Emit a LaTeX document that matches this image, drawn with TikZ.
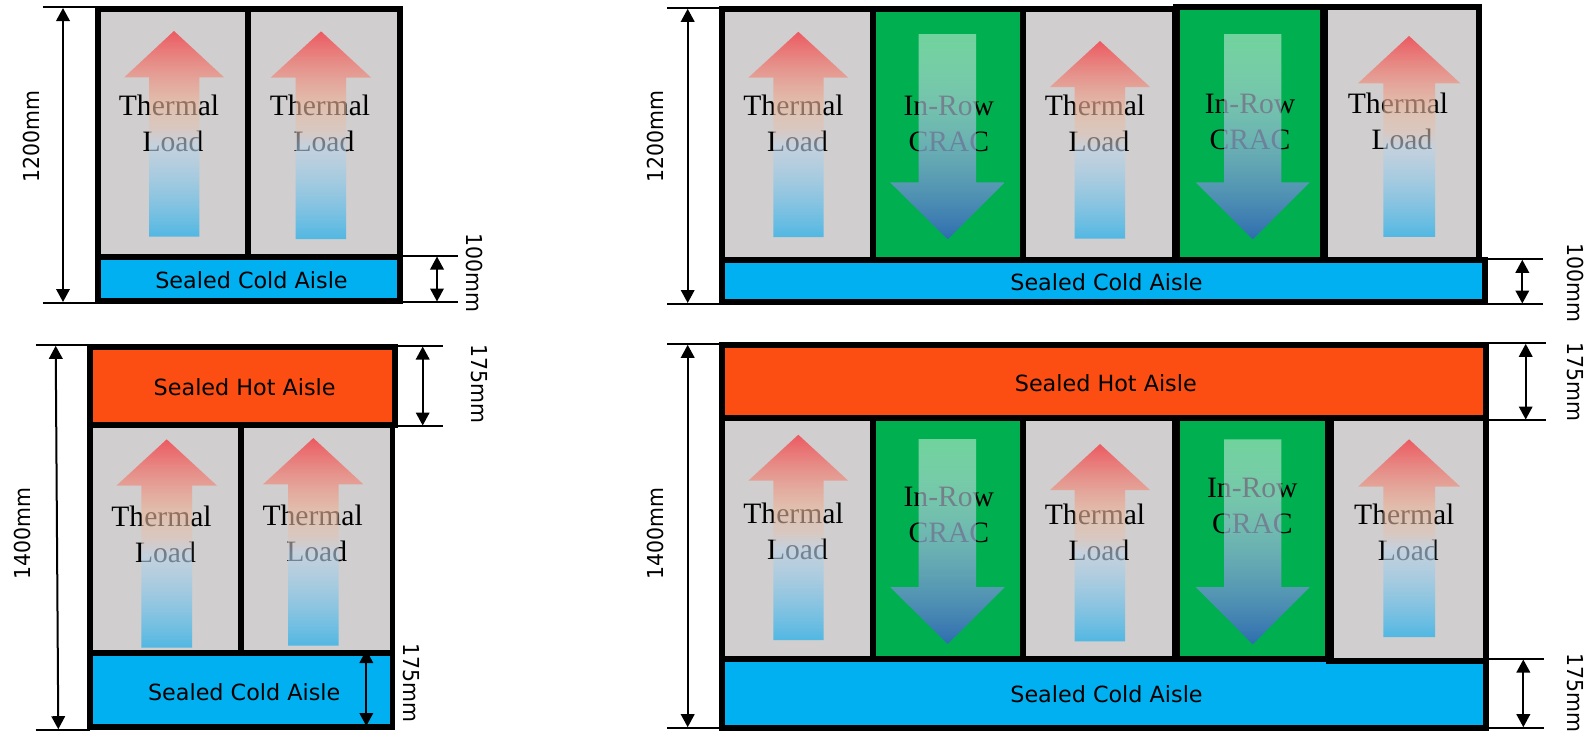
\documentclass[tikz,border=0pt]{standalone}
\usepackage{fontspec}
\setmainfont{DejaVu Sans}
\newfontfamily\serifface{Liberation Serif}
\newfontfamily\dimface[FakeStretch=0.93]{DejaVu Sans}
\usetikzlibrary{arrows.meta,fadings}
\definecolor{cellgray}{HTML}{D0CECE}
\definecolor{cracgreen}{HTML}{00B050}
\definecolor{coldblue}{HTML}{00B0F0}
\definecolor{hotorange}{HTML}{FC4D12}
\pgfdeclareverticalshading{upshade}{100bp}{
  rgb(0bp)=(0.32,0.72,0.89); rgb(25bp)=(0.32,0.72,0.89);
  rgb(47.5bp)=(0.745,0.83,0.91); rgb(51.5bp)=(0.88,0.765,0.705);
  rgb(57bp)=(0.92,0.72,0.615); rgb(75bp)=(0.925,0.35,0.38); rgb(100bp)=(0.925,0.35,0.38)}
\pgfdeclareverticalshading{upalpha}{100bp}{
  rgb(0bp)=(1,1,1); rgb(25bp)=(1,1,1);
  rgb(47.5bp)=(0.6,0.6,0.6); rgb(51.5bp)=(0.55,0.55,0.55);
  rgb(57bp)=(0.62,0.62,0.62); rgb(75bp)=(1,1,1); rgb(100bp)=(1,1,1)}
\pgfdeclarefading{upfade}{\pgfuseshading{upalpha}}
\pgfdeclareverticalshading{downshade}{100bp}{
  rgb(0bp)=(0.18,0.43,0.69); rgb(25bp)=(0.18,0.43,0.69);
  rgb(75bp)=(1,1,1); rgb(100bp)=(1,1,1)}
\pgfdeclareverticalshading{downalpha}{100bp}{
  rgb(0bp)=(1,1,1); rgb(25bp)=(1,1,1);
  rgb(75bp)=(0.44,0.44,0.44); rgb(100bp)=(0.44,0.44,0.44)}
\pgfdeclarefading{downfade}{\pgfuseshading{downalpha}}
\tikzset{
  x=1pt,y=-1pt,
  frameline/.style={line width=5.8pt,black,line cap=rect,line join=miter},
  divider/.style={line cap=butt,black},
  heatarrow/.style={shading=upshade,path fading=upfade,draw=none},
  coolarrow/.style={shading=downshade,path fading=downfade,draw=none},
  celltext/.style={font=\serifface\fontsize{29.6}{36}\selectfont,align=center,inner sep=0pt,anchor=base,text=black},
  aisletext/.style={font=\fontsize{22.3}{26}\selectfont,inner sep=0pt,anchor=base,text=black},
  dimtext/.style={font=\dimface\fontsize{22}{26}\selectfont,inner sep=0pt,anchor=center,text=black},
  dimarrow/.style={line width=2pt,black,{Triangle[width=13.5pt,length=13pt]}-{Triangle[width=13.5pt,length=13pt]}},
  extline/.style={line width=2pt,black},
}
% #1 tip x, #2 tip y, #3 head base y, #4 #5 head l r, #6 #7 shaft l r, #8 bottom y
\newcommand{\heatup}[8]{\shade[heatarrow] (#1,#2) -- (#5,#3) -- (#7,#3) -- (#7,#8) -- (#6,#8) -- (#6,#3) -- (#4,#3) -- cycle;}
% #1 tip x, #2 tip y, #3 head base y, #4 #5 head l r, #6 #7 shaft l r, #8 top y
\newcommand{\cooldown}[8]{\shade[coolarrow] (#1,#2) -- (#5,#3) -- (#7,#3) -- (#7,#8) -- (#6,#8) -- (#6,#3) -- (#4,#3) -- cycle;}
\newcommand{\thermalnode}[3]{\node[celltext] (#1) at (#2,#3) {Thermal\\\hspace*{8pt}Load};}
\newcommand{\cracnode}[3]{\node[celltext] (#1) at (#2,#3) {In-Row\\CRAC};}
% dimension arrow #1 name, #2 x top, #3 y top, #4 x bottom, #5 y bottom
\newcommand{\dimline}[5]{\coordinate (#1t) at (#2,#3); \coordinate (#1b) at (#4,#5); \draw[dimarrow] (#1t) -- (#1b);}
\newcommand{\extend}[4]{\coordinate (#1l) at (#2,#4); \coordinate (#1r) at (#3,#4); \draw[extline] (#1l) -- (#1r);}
\begin{document}
\begin{tikzpicture}
\useasboundingbox (0,0) rectangle (1584,732);
\fill[white] (0,0) rectangle (1584,732);

% ---------- panel A fills
\fill[cellgray] (98,9) rectangle (400,257);
\fill[coldblue] (98,257) rectangle (400,301);
% ---------- panel B fills
\fill[cellgray] (722,9) rectangle (873,260);
\fill[cracgreen] (873,9) rectangle (1023,260);
\fill[cellgray] (1023,9) rectangle (1176,260);
\fill[cracgreen] (1176,9) rectangle (1324,260);
\fill[cellgray] (1324,9) rectangle (1479,260);
\fill[coldblue] (722,260) rectangle (1485,302);
% ---------- panel C fills
\fill[hotorange] (90,347) rectangle (394,425);
\fill[cellgray] (90,425) rectangle (392,653);
\fill[coldblue] (90,653) rectangle (392,727);
% ---------- panel D fills
\fill[hotorange] (722,345) rectangle (1485,418);
\fill[cellgray] (722,418) rectangle (873,659);
\fill[cracgreen] (873,418) rectangle (1023,659);
\fill[cellgray] (1023,418) rectangle (1176,659);
\fill[cracgreen] (1176,418) rectangle (1329,659);
\fill[cellgray] (1329,418) rectangle (1485,661);
\fill[coldblue] (722,659) rectangle (1485,728);

% ---------- cell texts (under the translucent arrows)
\thermalnode{a1}{169}{151}
\thermalnode{a2}{320}{151}
\thermalnode{b1}{793.5}{151}
\cracnode{b2}{948.8}{151}
\thermalnode{b3}{1095}{151}
\cracnode{b4}{1250}{149}
\thermalnode{b5}{1398}{149}
\thermalnode{c1}{161.5}{562.7}
\thermalnode{c2}{312.7}{561.5}
\thermalnode{d1}{793.5}{559}
\cracnode{d2}{948.8}{542.7}
\thermalnode{d3}{1095}{560}
\cracnode{d4}{1252.3}{533.7}
\thermalnode{d5}{1404.3}{560}

% ---------- arrows
\heatup{174}{31}{77.3}{124.3}{224}{149}{199.3}{236.7}
\heatup{321}{31.3}{77.5}{270.7}{371}{295.7}{346}{239}
\heatup{798.3}{31.7}{77.7}{748.3}{848.3}{773.3}{823.7}{237}
\cooldown{947.7}{239.3}{182.3}{890}{1004.7}{918.7}{976}{34}
\heatup{1100}{41}{87}{1050}{1150}{1074.7}{1125}{238.7}
\cooldown{1252.7}{239.3}{182.3}{1195.7}{1309.7}{1224}{1281.3}{34}
\heatup{1409}{36}{83.3}{1358}{1460.3}{1383.3}{1435}{237}
\heatup{166.7}{439.3}{485.7}{116.3}{217}{141.3}{192}{647.7}
\heatup{313.3}{438}{484.3}{263}{363.3}{288}{338.7}{645.7}
\heatup{798.3}{434.7}{480.7}{748.3}{848.3}{773.3}{823.7}{640}
\cooldown{947.7}{644}{587}{890}{1004.7}{918.7}{976}{439}
\heatup{1100}{444}{490}{1050}{1150}{1074.7}{1125}{641.3}
\cooldown{1252.7}{644.3}{587}{1195.7}{1309.7}{1224}{1281.3}{439.3}
\heatup{1409}{439.3}{486.7}{1358}{1460.3}{1383.3}{1435}{637}

% ---------- frames
% panel A
\draw[frameline] (98.3,9) rectangle (400,301);
\draw[frameline] (248.3,9) -- (248.3,256.7);
\draw[frameline] (98.3,256.7) -- (400,256.7);
% panel B
\draw[frameline] (722.3,9) -- (1176,9);
\draw[frameline] (1176,7.3) -- (1479.3,7.3) -- (1479.3,260);
\draw[frameline] (722.3,9) -- (722.3,301.7) -- (1485.3,301.7) -- (1485.3,260) -- (722.3,260);
\draw[frameline] (873.3,9) -- (873.3,260);
\draw[frameline] (1023.3,9) -- (1023.3,260);
\draw[divider,line width=8pt] (1176,7.3) -- (1176,260);
\draw[divider,line width=7.7pt] (1324,7.3) -- (1324,260);
% panel C
\draw[frameline] (90.3,346.7) rectangle (394.7,425.3);
\draw[frameline] (90.3,425.3) rectangle (392.5,727);
\draw[frameline] (90.3,653.3) -- (392.5,653.3);
\draw[frameline] (241.3,425.3) -- (241.3,653.3);
% panel D
\draw[frameline] (722.3,345.3) rectangle (1485.7,728.3);
\draw[frameline] (722.3,417.7) -- (1485.7,417.7);
\draw[frameline] (722.3,659.2) -- (1329,659.2);
\draw[frameline] (1329,661) -- (1485.7,661);
\draw[frameline] (873.3,417.7) -- (873.3,659);
\draw[frameline] (1023.3,417.7) -- (1023.3,659);
\draw[divider,line width=8pt] (1176,417.7) -- (1176,659);
\draw[divider,line width=9pt] (1329,417.7) -- (1329,661);

% ---------- aisle labels
\node[aisletext] (acold) at (251.5,288.7) {Sealed Cold Aisle};
\node[aisletext] (bcold) at (1106.5,290.7) {Sealed Cold Aisle};
\node[aisletext] (chot) at (244.7,395) {Sealed Hot Aisle};
\node[aisletext] (ccold) at (244.2,700) {Sealed Cold Aisle};
\node[aisletext] (dhot) at (1105.8,391) {Sealed Hot Aisle};
\node[aisletext] (dcold) at (1106.5,702.3) {Sealed Cold Aisle};

% ---------- dimensions
\extend{ea1}{42.7}{98}{7.3}
\extend{ea2}{42.7}{98}{302.7}
\dimline{da1}{63}{8}{63}{302}
\extend{ea3}{400}{458}{255.7}
\extend{ea4}{400}{458}{302.3}
\dimline{da2}{437}{256.5}{437}{301.5}
\node[dimtext,rotate=90] (la1) at (31,137) {1200mm};
\node[dimtext,rotate=-90] (la2) at (475,273) {100mm};

\extend{eb1}{667.3}{722}{8}
\extend{eb2}{667.3}{722}{303.7}
\dimline{db1}{687.7}{8.8}{687.7}{303}
\extend{eb3}{1485}{1542.7}{259}
\extend{eb4}{1485}{1542.7}{304.3}
\dimline{db2}{1522.3}{259.8}{1522.3}{303.5}
\node[dimtext,rotate=90] (lb1) at (655,137) {1200mm};
\node[dimtext,rotate=-90] (lb2) at (1575.5,282.5) {100mm};

\extend{ec1}{35.7}{90}{345}
\extend{ec2}{35.7}{90}{730}
\dimline{dc1}{55.7}{345.8}{58.3}{729.2}
\extend{ec3}{395}{442.7}{345.7}
\extend{ec4}{395}{442.7}{426.3}
\dimline{dc2}{422.7}{346.5}{422.7}{425.5}
\dimline{dc3}{366.3}{650}{366.3}{726}
\node[dimtext,rotate=90] (lc1) at (22.7,533.3) {1400mm};
\node[dimtext,rotate=-90] (lc2) at (479.3,384.3) {175mm};
\node[dimtext,rotate=-90] (lc3) at (411.7,683.3) {175mm};

\extend{ed1}{667.3}{722}{344}
\extend{ed2}{667.3}{722}{728}
\dimline{dd1}{687.7}{344.8}{687.7}{727.2}
\extend{ed3}{1489.3}{1546}{343}
\extend{ed4}{1489.3}{1546}{420.3}
\dimline{dd2}{1525.7}{343.8}{1525.7}{419.5}
\extend{ed5}{1487}{1544}{658.7}
\extend{ed6}{1487}{1544}{728}
\dimline{dd3}{1523.3}{659.5}{1523.3}{727.2}
\node[dimtext,rotate=90] (ld1) at (655,533.3) {1400mm};
\node[dimtext,rotate=-90] (ld2) at (1575.5,381.7) {175mm};
\node[dimtext,rotate=-90] (ld3) at (1575.5,693) {175mm};
\end{tikzpicture}
\end{document}
